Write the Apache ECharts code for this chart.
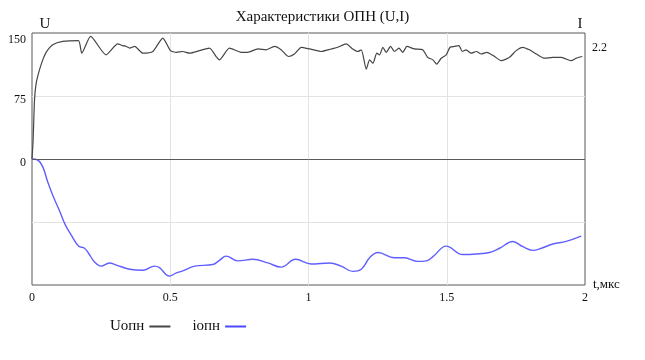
<!DOCTYPE html>
<html>
<head>
<meta charset="utf-8">
<script src="https://cdn.jsdelivr.net/npm/echarts@6/dist/echarts.min.js"></script>
<style>
html,body{margin:0;padding:0;background:#fff;}
#chart{width:645px;height:360px;}
</style>
</head>
<body>
<div id="chart"></div>
<script>
// ---- data ----
const uTime = [0,0.004,0.009,0.015,0.027,0.039,0.051,0.075,0.111,0.168,0.180,0.212,0.268,0.310,0.328,0.341,0.353,0.371,0.401,0.437,0.473,0.501,0.522,0.545,0.570,0.606,0.642,0.666,0.678,0.714,0.757,0.780,0.817,0.847,0.877,0.901,0.928,0.949,0.974,1.004,1.046,1.082,1.106,1.136,1.160,1.178,1.191,1.209,1.221,1.233,1.247,1.257,1.269,1.281,1.297,1.311,1.327,1.341,1.356,1.383,1.413,1.431,1.450,1.464,1.480,1.498,1.512,1.528,1.544,1.556,1.570,1.588,1.607,1.625,1.645,1.673,1.697,1.727,1.751,1.775,1.799,1.824,1.854,1.884,1.914,1.932,1.950,1.968,1.990];
const uValues = [0,22,70,90,106,118,127,136,140,141,126,146,124,137,135,134,132,134,126,128,144,129,127,128,126,129,132,122,118,132,127,127,131,130,134,130,122,125,133,131,128,131,133,137,131,128,130,107,118,114,126,124,133,127,134,128,132,127,134,131,130,121,118,113,120,124,133,134,135,128,130,126,128,125,127,122,117,121,129,133,130,125,120,121,121,119,117,120,122];

const iTime = [0,0.021,0.039,0.057,0.075,0.099,0.121,0.142,0.169,0.190,0.205,0.226,0.250,0.280,0.305,0.353,0.401,0.443,0.461,0.497,0.522,0.545,0.588,0.654,0.678,0.702,0.744,0.799,0.853,0.901,0.953,1.010,1.076,1.118,1.160,1.191,1.221,1.251,1.311,1.347,1.395,1.426,1.450,1.498,1.558,1.607,1.655,1.691,1.739,1.775,1.811,1.847,1.884,1.932,1.986];
const iValues = [0,-0.02,-0.15,-0.44,-0.69,-0.98,-1.26,-1.45,-1.66,-1.70,-1.80,-1.96,-2.04,-1.98,-2.02,-2.10,-2.12,-2.04,-2.07,-2.23,-2.17,-2.13,-2.04,-2.01,-1.93,-1.85,-1.94,-1.91,-1.98,-2.06,-1.91,-2.00,-1.98,-2.04,-2.14,-2.10,-1.88,-1.78,-1.88,-1.88,-1.95,-1.94,-1.86,-1.66,-1.82,-1.81,-1.78,-1.70,-1.57,-1.67,-1.74,-1.69,-1.62,-1.57,-1.47];

const xTickValues = [0, 0.5, 1, 1.5, 2];
const uTickLabels = [0, 75, 150];
const iTickLabels = [2.2];

const seriesNames = ['Uопн', 'iопн'];
const titleText = 'Характеристики ОПН (U,I)';

// ---- chart ----
const FONT = '"Liberation Serif", "Times New Roman", serif';
const uData = uTime.map((t, k) => [t, uValues[k]]);
const iData = iTime.map((t, k) => [t, iValues[k]]);

const chart = echarts.init(document.getElementById('chart'), null, {renderer: 'canvas'});
chart.setOption({
  animation: false,
  backgroundColor: '#fff',
  title: {
    text: titleText,
    left: 'center', top: 5,
    textStyle: {fontFamily: FONT, fontSize: 15, fontWeight: 'normal', color: '#111'}
  },
  legend: {
    data: seriesNames,
    left: 105, top: 314,
    align: 'right',
    icon: 'rect',
    itemWidth: 21, itemHeight: 2,
    itemGap: 22,
    textStyle: {fontFamily: FONT, fontSize: 15, color: '#111'}
  },
  grid: {
    left: 32, right: 60, top: 33, bottom: 75,
    show: true, borderColor: '#595959', borderWidth: 1,
    containLabel: false
  },
  xAxis: {
    type: 'value', min: 0, max: 2, interval: 0.5,
    name: 't,мкс', nameLocation: 'end', nameGap: 8,
    nameTextStyle: {fontFamily: FONT, fontSize: 13, color: '#111', verticalAlign: 'middle'},
    axisLine: {show: false, onZero: false},
    axisTick: {show: false},
    axisLabel: {customValues: xTickValues, fontFamily: FONT, fontSize: 12, color: '#111', margin: 7,
      formatter: v => String(v)},
    splitLine: {show: true, showMinLine: false, showMaxLine: false, lineStyle: {color: '#e3e3e3', width: 1}}
  },
  yAxis: [
    {
      type: 'value', min: -150, max: 150, interval: 75,
      name: 'U', nameLocation: 'end', nameGap: 1,
      nameTextStyle: {fontFamily: FONT, fontSize: 15, color: '#111', align: 'center', padding: [0, 0, 0, 26]},
      axisLine: {show: false},
      axisTick: {show: false},
      axisLabel: {
        customValues: uTickLabels,
        fontFamily: FONT, fontSize: 12, color: '#111', margin: 6,
        formatter: v => (v === 150 ? '{t|' + v + '}' : '{n|' + v + '}'),
        rich: {
          t: {fontFamily: FONT, fontSize: 12, color: '#111', padding: [14, 0, 0, 0]},
          n: {fontFamily: FONT, fontSize: 12, color: '#111', padding: [8, 0, 0, 0]}
        }
      },
      splitLine: {show: true, showMinLine: false, showMaxLine: false, lineStyle: {color: '#e3e3e3', width: 1}}
    },
    {
      type: 'value', min: -2.4, max: 2.4, position: 'right',
      name: 'I', nameLocation: 'end', nameGap: 1,
      nameTextStyle: {fontFamily: FONT, fontSize: 15, color: '#111', align: 'center', padding: [0, 10, 0, 0]},
      axisLine: {show: false},
      axisTick: {show: false},
      axisLabel: {
        customValues: iTickLabels,
        fontFamily: FONT, fontSize: 12, color: '#111', margin: 7,
        formatter: v => '{n|' + v + '}',
        rich: {n: {fontFamily: FONT, fontSize: 12, color: '#111', padding: [8, 0, 0, 0]}}
      },
      splitLine: {show: false}
    }
  ],
  series: [
    {
      name: seriesNames[0], type: 'line', yAxisIndex: 0,
      data: uData, showSymbol: false, smooth: 0.2,
      lineStyle: {color: '#454545', width: 1.2},
      itemStyle: {color: '#454545'},
      markLine: {
        silent: true, symbol: 'none', animation: false,
        label: {show: false},
        lineStyle: {color: '#595959', type: 'solid', width: 1},
        data: [{yAxis: 0}]
      },
      z: 3
    },
    {
      name: seriesNames[1], type: 'line', yAxisIndex: 1,
      data: iData, showSymbol: false, smooth: 0.4,
      lineStyle: {color: '#6060ff', width: 1.4},
      itemStyle: {color: '#4a4aff'},
      z: 3
    }
  ]
});
</script>
</body>
</html>
